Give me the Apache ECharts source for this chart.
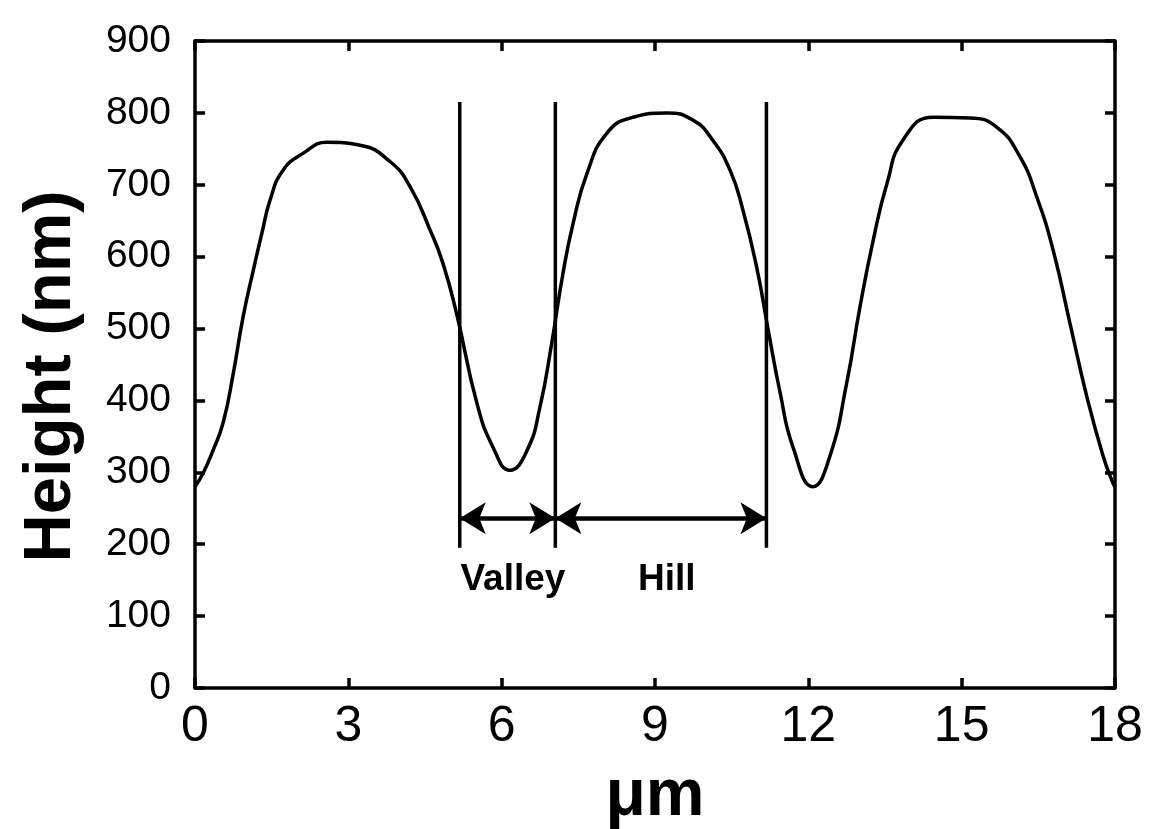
<!DOCTYPE html>
<html>
<head>
<meta charset="utf-8">
<script src="https://cdn.jsdelivr.net/npm/echarts@6/dist/echarts.min.js"></script>
<style>
html,body{margin:0;padding:0;background:#fff;}
#chart{width:1154px;height:829px;}
</style>
</head>
<body>
<div id="chart"></div>
<script>
// Profile (x in µm, height in nm)
const profileX = [0, 0.16, 0.35, 0.55, 0.75, 0.94, 1.14, 1.31, 1.47, 1.72, 2.12, 2.58, 3.23, 3.82, 4.21, 4.6, 4.85, 5.12, 5.52, 5.83, 6.16, 6.5, 6.75, 6.98, 7.2, 7.4, 7.67, 8.06, 8.57, 9.23, 9.74, 10.13, 10.47, 10.72, 10.99, 11.21, 11.45, 11.7, 12.09, 12.42, 12.75, 13.01, 13.27, 13.54, 13.85, 14.44, 15.16, 15.69, 16.14, 16.47, 16.79, 17.12, 17.45, 17.77, 17.96, 18];
const profileY = [280, 299, 330, 369, 438, 516, 581, 633, 679, 720, 744, 759, 755, 732, 697, 637, 591, 520, 395, 335, 303, 331, 391, 480, 577, 647, 716, 772, 794, 800, 790, 762, 720, 665, 585, 500, 410, 335, 280, 322, 424, 530, 623, 702, 762, 794, 793, 780, 739, 683, 609, 507, 405, 322, 285, 280];

// Vertical marker lines (x positions) and their extent
const markerX = [5.18, 7.05, 11.18];
const markerLow = 195;
const markerHigh = 815;

// Arrows between markers
const arrowY = 236;
const arrowSpans = [[5.18, 7.05], [7.05, 11.18]];

// Annotation labels
const annoText = ['Valley', 'Hill'];
const annoX = [6.22, 9.23];
const annoY = [150, 150];

const xTicks = [0, 3, 6, 9, 12, 15, 18];
const yTicks = [0, 100, 200, 300, 400, 500, 600, 700, 800, 900];

const FONT = 'Liberation Sans, Arial, sans-serif';
const chart = echarts.init(document.getElementById('chart'));

const series = [];
series.push({
  type: 'line',
  data: profileX.map((x, i) => [x, profileY[i]]),
  smooth: 0.5,
  showSymbol: false,
  lineStyle: {color: '#000', width: 3.5},
  z: 5,
  silent: true
});
markerX.forEach(x => {
  series.push({
    type: 'line',
    data: [[x, markerLow], [x, markerHigh]],
    showSymbol: false,
    lineStyle: {color: '#000', width: 3.5},
    silent: true
  });
});
series.push({
  type: 'line',
  data: [],
  silent: true,
  markLine: {
    silent: true,
    symbol: ['arrow', 'arrow'],
    symbolSize: [24, 26],
    lineStyle: {color: '#000', width: 4.5, type: 'solid'},
    label: {show: false},
    data: arrowSpans.map(s => [{coord: [s[0], arrowY]}, {coord: [s[1], arrowY]}])
  }
});
series.push({
  type: 'scatter',
  symbolSize: 0,
  silent: true,
  itemStyle: {opacity: 1, color: '#000'},
  data: annoText.map((t, i) => ({value: [annoX[i], annoY[i]], name: t})),
  label: {
    show: true,
    position: 'inside',
    formatter: p => p.name,
    color: '#000',
    opacity: 1,
    textBorderWidth: 0,
    fontFamily: FONT,
    fontWeight: 'bold',
    fontSize: 37
  }
});

const axisLine = {show: true, onZero: false, lineStyle: {color: '#000', width: 3.5}};
const tickIn = {show: true, inside: true, length: 10, lineStyle: {color: '#000', width: 3.5}};

chart.setOption({
  animation: false,
  backgroundColor: '#fff',
  grid: {left: 195, right: 39, top: 41, bottom: 141, containLabel: false, outerBoundsMode: 'none'},
  xAxis: [{
    type: 'value', min: 0, max: 18, interval: 3, position: 'bottom',
    axisLine: axisLine, axisTick: tickIn, splitLine: {show: false},
    axisLabel: {color: '#000', fontFamily: FONT, fontSize: 50, margin: 14,
      formatter: v => xTicks.includes(v) ? String(v) : ''},
    name: 'μm', nameLocation: 'middle', nameGap: 76,
    nameTextStyle: {color: '#000', fontFamily: FONT, fontWeight: 'bold', fontSize: 66}
  }, {
    type: 'value', min: 0, max: 18, interval: 3, position: 'top',
    axisLine: axisLine, axisTick: tickIn, axisLabel: {show: false}, splitLine: {show: false}
  }],
  yAxis: [{
    type: 'value', min: 0, max: 900, interval: 100, position: 'left',
    axisLine: axisLine, axisTick: tickIn, splitLine: {show: false},
    axisLabel: {color: '#000', fontFamily: FONT, fontSize: 39, margin: 24,
      formatter: v => yTicks.includes(v) ? String(v) : ''},
    name: 'Height (nm)', nameLocation: 'middle', nameGap: 110, nameRotate: 90,
    nameTextStyle: {color: '#000', fontFamily: FONT, fontWeight: 'bold', fontSize: 67, padding: [0, 24, 0, 0]}
  }, {
    type: 'value', min: 0, max: 900, interval: 100, position: 'right',
    axisLine: axisLine, axisTick: tickIn, axisLabel: {show: false}, splitLine: {show: false}
  }],
  series: series
});
</script>
</body>
</html>
